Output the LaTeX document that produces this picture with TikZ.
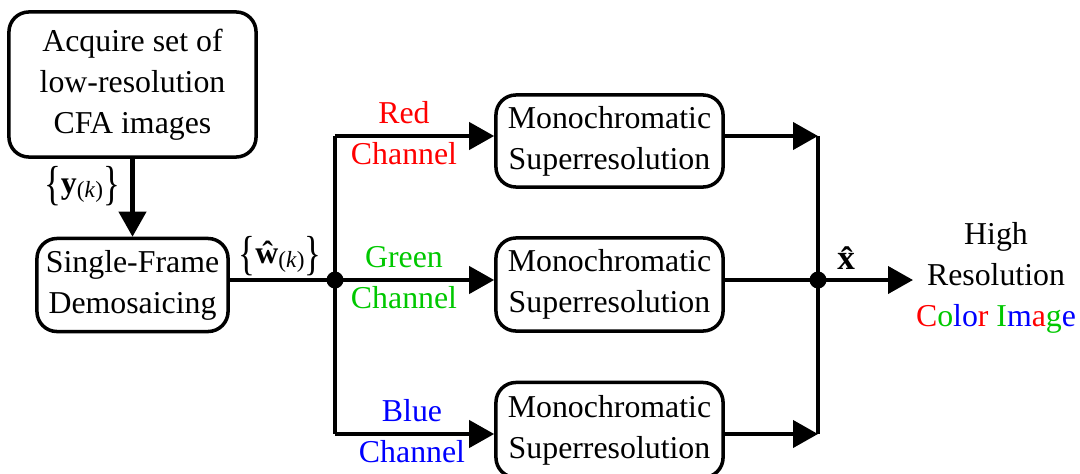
\documentclass[tikz,border=0pt]{standalone}
\usepackage{fontspec}
\setmainfont{Liberation Serif}
\usetikzlibrary{arrows.meta}
\definecolor{rgbR}{RGB}{255,0,0}
\definecolor{rgbG}{RGB}{0,200,0}
\definecolor{rgbB}{RGB}{0,0,255}
% small parenthesised index set beside a bold symbol
\newcommand{\idxk}{\raisebox{-1.2pt}{\fontsize{6.6}{7}\selectfont(\textit{k})}}
% stretched set brace
\newcommand{\tallbr}[1]{\raisebox{-1.6pt}{\scalebox{1.1}[1.5]{#1}}}
\begin{document}
\begin{tikzpicture}[x=0.01cm,y=-0.01cm,
  txt/.style={font=\fontsize{9.05}{11.6}\selectfont,align=center,inner sep=0pt},
  box/.style={txt,draw,line width=1pt,rounded corners=0.2cm},
  wire/.style={line width=1.15pt},
  flow/.style={wire,-{Triangle[length=0.25cm,width=0.27cm]}},
  dot/.style={circle,fill,inner sep=0pt,minimum size=0.17cm}]
\useasboundingbox (0,0) rectangle (1080,473);

% processing blocks
\node[box,minimum width=2.47cm,minimum height=1.45cm] (acq) at (132.5,84.5)
  {Acquire set of\\low-resolution\\CFA images};
\node[box,minimum width=1.91cm,minimum height=0.93cm] (sf) at (132.5,285)
  {Single-Frame\\Demosaicing};
\node[box,minimum width=2.27cm,minimum height=0.92cm] (m1) at (609.5,141)
  {Monochromatic\\Superresolution};
\node[box,minimum width=2.27cm,minimum height=0.93cm] (m2) at (609.5,284.5)
  {Monochromatic\\Superresolution};
\node[box,minimum width=2.27cm,minimum height=0.95cm] (m3) at (609.5,430)
  {Monochromatic\\Superresolution};

% split and merge points
\node[dot] (j1) at (335,280) {};
\node[dot] (j2) at (818,280) {};
\coordinate (s1) at (335,136);
\coordinate (s3) at (335,434);
\coordinate (r1) at (818,136);
\coordinate (r3) at (818,434);
\coordinate (out) at (913,280);

% connectors
\draw[flow] (acq.south) -- (sf.north);
\draw[wire] (sf.east |- j1) -- (j1.center);
\draw[wire] (s1) -- (s3);
\draw[flow] (s1) -- (m1.west |- s1);
\draw[flow] (j1.center) -- (m2.west |- j1);
\draw[flow] (s3) -- (m3.west |- s3);
\draw[flow] (m1.east |- r1) -- (r1);
\draw[wire] (m2.east |- j2) -- (j2.center);
\draw[flow] (m3.east |- r3) -- (r3);
\draw[wire] (r1) -- (r3);
\draw[flow] (j2.center) -- (out);

% labels
\node[txt] (ly) at (82,186) {\tallbr{\{}\textbf{y}\idxk\tallbr{\}}};
\node[txt] (lw) at (280,256) {\tallbr{\{}\textbf{\^{w}}\idxk\tallbr{\}}};
\node[txt,font=\fontsize{10}{12}\selectfont] (lx) at (849,258) {\textbf{\^{x}}};
\node[txt,text=rgbR] (lr) at (404,133) {Red\\Channel};
\node[txt,text=rgbG] (lg) at (404,278) {Green\\Channel};
\node[txt,text=rgbB] (lb) at (412,431) {Blue\\Channel};
\node[txt] (hr) at (996,278) {High\\Resolution\\%
  \textcolor{rgbR}{C}\textcolor{rgbG}{o}\textcolor{rgbB}{lo}\textcolor{rgbR}{r}
  \textcolor{rgbG}{I}\textcolor{rgbB}{m}\textcolor{rgbR}{a}\textcolor{rgbG}{g}\textcolor{rgbB}{e}};
\end{tikzpicture}
\end{document}
